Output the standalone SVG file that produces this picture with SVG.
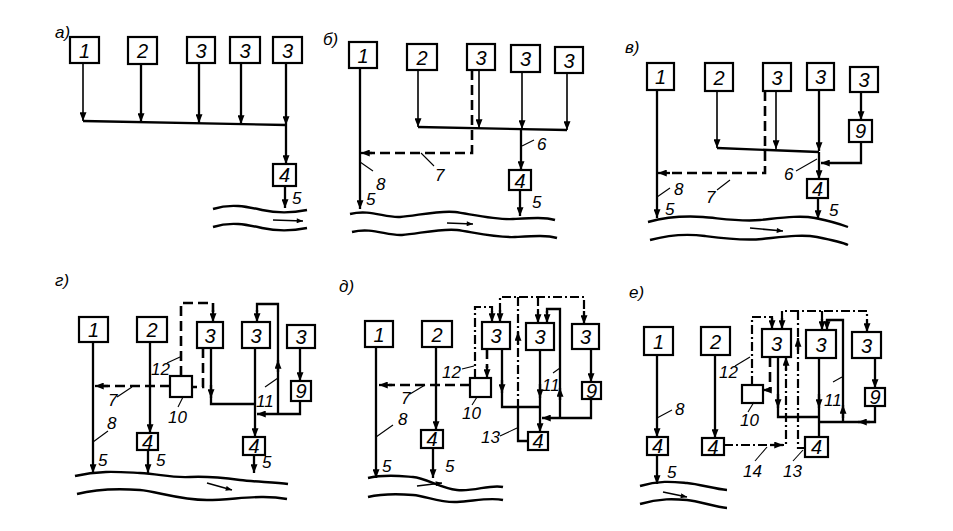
<svg xmlns="http://www.w3.org/2000/svg" width="953" height="531" viewBox="0 0 953 531">
<defs>
<marker id="a" viewBox="0 0 10 8" refX="10" refY="4" markerWidth="9" markerHeight="7" markerUnits="userSpaceOnUse" orient="auto"><path d="M0,0 L10,4 L0,8 z" fill="#000"/></marker>
<marker id="s" viewBox="0 0 10 8" refX="10" refY="4" markerWidth="8" markerHeight="5" markerUnits="userSpaceOnUse" orient="auto"><path d="M0,0 L10,4 L0,8 z" fill="#000"/></marker>
</defs>
<style>
.box{fill:#fff;stroke:#000;stroke-width:2.2}
.ln{fill:none;stroke:#000;stroke-width:2.3}
.th{fill:none;stroke:#000;stroke-width:1.6}
.ds{fill:none;stroke:#000;stroke-width:2.6;stroke-dasharray:10,5}
.dd{fill:none;stroke:#000;stroke-width:2.2;stroke-dasharray:9,3,2,3}
.ld{fill:none;stroke:#000;stroke-width:1.1}
.rv{fill:none;stroke:#000;stroke-width:2.4}
.ar{marker-end:url(#a)}
.sa{marker-end:url(#s)}
text{font-family:"Liberation Sans","DejaVu Sans",sans-serif;font-style:italic;fill:#000}
.n{font-size:20px;text-anchor:middle}
.l{font-size:17px}
</style>
<rect width="953" height="531" fill="#fff"/>

<!-- Panel a -->
<g id="panel-a">
<text class="l" x="55" y="38">а)</text>
<g id="a-n1"><rect class="box" x="70" y="37" width="29" height="26"/><text class="n" x="84.5" y="58">1</text></g>
<g id="a-n2"><rect class="box" x="128" y="37" width="29" height="27"/><text class="n" x="142.5" y="58">2</text></g>
<g id="a-n3a"><rect class="box" x="187" y="37" width="28" height="26"/><text class="n" x="201" y="58">3</text></g>
<g id="a-n3b"><rect class="box" x="230" y="37" width="30" height="26"/><text class="n" x="245" y="58">3</text></g>
<g id="a-n3c"><rect class="box" x="273" y="37" width="29" height="26"/><text class="n" x="287.5" y="58">3</text></g>
<g id="a-n4"><rect class="box" x="273" y="164" width="23" height="22"/><text class="n" x="284.5" y="182">4</text></g>
<g id="a-conn">
<path class="ln" d="M83,121 L286,125"/>
<path class="th ar" d="M83,63 L83,121"/>
<path class="ln ar" d="M141,64 L141,122"/>
<path class="ln ar" d="M199,63 L199,123"/>
<path class="ln ar" d="M241,63 L241,124"/>
<path class="ln ar" d="M286,63 L286,125"/>
<path class="ln ar" d="M286,125 L286,164"/>
<path class="ln ar" d="M285,186 L285,208"/>
<path class="rv" d="M213,209 C232,203 248,207 262,210 S292,213 307,210"/>
<path class="rv" d="M213,227 C232,221 248,225 262,228 S292,231 307,228"/>
<path class="th sa" d="M273,220 L303,221"/>
</g>
<text class="l" x="292" y="204">5</text>
</g>

<!-- Panel b -->
<g id="panel-b">
<text class="l" x="323" y="45">б)</text>
<g id="b-n1"><rect class="box" x="349" y="42" width="28" height="26"/><text class="n" x="363" y="63">1</text></g>
<g id="b-n2"><rect class="box" x="407" y="44" width="30" height="26"/><text class="n" x="422" y="65">2</text></g>
<g id="b-n3a"><rect class="box" x="467" y="44" width="28" height="26"/><text class="n" x="481" y="65">3</text></g>
<g id="b-n3b"><rect class="box" x="511" y="45" width="29" height="27"/><text class="n" x="525.5" y="66">3</text></g>
<g id="b-n3c"><rect class="box" x="555" y="47" width="28" height="26"/><text class="n" x="569" y="68">3</text></g>
<g id="b-n4"><rect class="box" x="509" y="170" width="22" height="20"/><text class="n" x="520" y="188">4</text></g>
<g id="b-conn">
<path class="ln ar" d="M360,68 L360,209"/>
<path class="ds" d="M472,70 L472,153 L368,153"/>
<path class="ln ar" d="M372,153 L361,153"/>
<path class="ln" d="M418,127 L567,130"/>
<path class="th ar" d="M418,70 L418,127"/>
<path class="th ar" d="M479,70 L479,128"/>
<path class="th ar" d="M522,72 L522,129"/>
<path class="th ar" d="M567,73 L567,130"/>
<path class="ln ar" d="M521,129 L521,170"/>
<path class="ln ar" d="M520,190 L520,216"/>
<path class="ld" d="M522,146 L534,140"/>
<path class="ld" d="M360,162 L373,171"/>
<path class="ld" d="M421,153 L434,166"/>
<path class="rv" d="M350,214 C370,209 385,218 400,217 S440,210 455,212 S495,220 513,219 S545,217 555,220"/>
<path class="rv" d="M352,232 C372,227 387,236 402,235 S442,228 457,230 S497,238 515,237 S547,235 557,238"/>
<path class="th sa" d="M447,223 L473,224"/>
</g>
<text class="l" x="537" y="150">6</text>
<text class="l" x="376" y="190">8</text>
<text class="l" x="435" y="181">7</text>
<text class="l" x="366" y="205">5</text>
<text class="l" x="532" y="208">5</text>
</g>

<!-- Panel v -->
<g id="panel-v">
<text class="l" x="625" y="53">в)</text>
<g id="v-n1"><rect class="box" x="647" y="63" width="27" height="27"/><text class="n" x="660.5" y="84">1</text></g>
<g id="v-n2"><rect class="box" x="705" y="63" width="28" height="28"/><text class="n" x="719" y="85">2</text></g>
<g id="v-n3a"><rect class="box" x="763" y="63" width="28" height="28"/><text class="n" x="777" y="85">3</text></g>
<g id="v-n3b"><rect class="box" x="807" y="63" width="27" height="27"/><text class="n" x="820.5" y="84">3</text></g>
<g id="v-n3c"><rect class="box" x="850" y="67" width="28" height="25"/><text class="n" x="864" y="87">3</text></g>
<g id="v-n9"><rect class="box" x="849" y="120" width="23" height="22"/><text class="n" x="860.5" y="138">9</text></g>
<g id="v-n4"><rect class="box" x="807" y="179" width="21" height="19"/><text class="n" x="817.5" y="196">4</text></g>
<g id="v-conn">
<path class="ln ar" d="M657,90 L657,218"/>
<path class="ds" d="M765,91 L765,173 L666,173"/>
<path class="ln ar" d="M670,173 L658,173"/>
<path class="ln" d="M717,148 L819,152"/>
<path class="th ar" d="M717,91 L717,148"/>
<path class="th ar" d="M776,91 L776,149"/>
<path class="ln ar" d="M819,90 L819,151"/>
<path class="ln ar" d="M861,92 L861,120"/>
<path class="ln ar" d="M861,142 L861,163 L821,163"/>
<path class="ln ar" d="M819,152 L819,179"/>
<path class="ln ar" d="M818,198 L818,219"/>
<path class="ld" d="M796,171 L817,159"/>
<path class="ld" d="M657,197 L670,188"/>
<path class="ld" d="M717,190 L730,180"/>
<path class="rv" d="M648,222 C670,216 688,216 703,217 S740,222 760,220 S800,215 815,218 S840,224 848,227"/>
<path class="rv" d="M650,240 C672,234 690,234 705,236 S742,241 762,239 S802,234 817,237 S842,242 848,245"/>
<path class="th sa" d="M750,228 L783,231"/>
</g>
<text class="l" x="784" y="180">6</text>
<text class="l" x="674" y="195">8</text>
<text class="l" x="706" y="203">7</text>
<text class="l" x="665" y="215">5</text>
<text class="l" x="829" y="216">5</text>
</g>

<!-- Panel g -->
<g id="panel-g">
<text class="l" x="55" y="286">г)</text>
<g id="g-n1"><rect class="box" x="79" y="317" width="29" height="25"/><text class="n" x="93.5" y="337">1</text></g>
<g id="g-n2"><rect class="box" x="137" y="317" width="30" height="25"/><text class="n" x="152" y="337">2</text></g>
<g id="g-n3a"><rect class="box" x="197" y="322" width="26" height="26"/><text class="n" x="210" y="343">3</text></g>
<g id="g-n3b"><rect class="box" x="242" y="322" width="28" height="26"/><text class="n" x="256" y="343">3</text></g>
<g id="g-n3c"><rect class="box" x="287" y="325" width="28" height="23"/><text class="n" x="301" y="344">3</text></g>
<g id="g-n10"><rect class="box" x="170" y="376" width="22" height="21"/></g>
<g id="g-n9"><rect class="box" x="291" y="381" width="20" height="20"/><text class="n" x="301" y="398">9</text></g>
<g id="g-n4a"><rect class="box" x="137" y="433" width="21" height="17"/><text class="n" x="147.5" y="449">4</text></g>
<g id="g-n4b"><rect class="box" x="243" y="437" width="22" height="18"/><text class="n" x="254" y="453">4</text></g>
<g id="g-conn">
<path class="ln ar" d="M93,342 L93,473"/>
<path class="ds" d="M170,386 L104,386"/>
<path class="ln ar" d="M108,386 L95,386"/>
<path class="ln ar" d="M150,342 L150,433"/>
<path class="ln ar" d="M148,450 L148,473"/>
<path class="ds" d="M181,376 L181,303 L213,303 L213,312"/>
<path class="ln ar" d="M213,310 L213,322"/>
<path class="ds" d="M203,348 L203,387 L192,387"/>
<path class="ln" d="M211,348 L211,404 L255,404"/>
<path class="ln ar" d="M211,385 L211,398"/>
<path class="ln ar" d="M255,348 L255,437"/>
<path class="ln" d="M278,414 L278,304 L257,304 L257,312"/>
<path class="ln ar" d="M257,310 L257,322"/>
<path class="ln ar" d="M278,372 L278,360"/>
<path class="ln ar" d="M300,348 L300,381"/>
<path class="ln ar" d="M300,401 L300,414 L257,414"/>
<path class="ln ar" d="M254,455 L254,473"/>
<path class="ld" d="M167,363 L180,357"/>
<path class="ld" d="M183,397 L178,407"/>
<path class="ld" d="M117,397 L132,387"/>
<path class="ld" d="M93,442 L108,431"/>
<path class="ld" d="M265,387 L278,378"/>
<path class="rv" d="M75,476 C100,470 120,472 140,473 S170,478 190,477 S225,478 240,480 S275,482 288,484"/>
<path class="rv" d="M77,494 C100,488 125,489 140,490 S180,500 207,500 S260,494 287,499"/>
<path class="th sa" d="M207,483 L232,490"/>
</g>
<text class="l" x="151" y="375">12</text>
<text class="l" x="168" y="423">10</text>
<text class="l" x="108" y="406">7</text>
<text class="l" x="107" y="429">8</text>
<text class="l" x="256" y="407">11</text>
<text class="l" x="98" y="466">5</text>
<text class="l" x="156" y="466">5</text>
<text class="l" x="262" y="468">5</text>
</g>

<!-- Panel d -->
<g id="panel-d">
<text class="l" x="339" y="292">д)</text>
<g id="d-n1"><rect class="box" x="365" y="321" width="28" height="26"/><text class="n" x="379" y="342">1</text></g>
<g id="d-n2"><rect class="box" x="422" y="321" width="30" height="26"/><text class="n" x="437" y="342">2</text></g>
<g id="d-n3a"><rect class="box" x="482" y="322" width="28" height="27"/><text class="n" x="496" y="343">3</text></g>
<g id="d-n3b"><rect class="box" x="526" y="323" width="28" height="27"/><text class="n" x="540" y="344">3</text></g>
<g id="d-n3c"><rect class="box" x="572" y="324" width="27" height="25"/><text class="n" x="585.5" y="344">3</text></g>
<g id="d-n10"><rect class="box" x="470" y="378" width="21" height="19"/></g>
<g id="d-n9"><rect class="box" x="582" y="382" width="19" height="17"/><text class="n" x="591.5" y="398">9</text></g>
<g id="d-n4a"><rect class="box" x="421" y="430" width="22" height="18"/><text class="n" x="432" y="446">4</text></g>
<g id="d-n4b"><rect class="box" x="528" y="432" width="20" height="18"/><text class="n" x="538" y="448">4</text></g>
<g id="d-conn">
<path class="ln ar" d="M376,347 L376,478"/>
<path class="ds" d="M470,385 L389,385"/>
<path class="ln ar" d="M392,385 L379,385"/>
<path class="ln ar" d="M436,347 L436,430"/>
<path class="ln ar" d="M433,448 L433,478"/>
<path class="dd" d="M475,378 L475,307 L492,307 L492,312"/>
<path class="ln ar" d="M492,311 L492,322"/>
<path class="ds" d="M487,349 L487,368"/>
<path class="ln ar" d="M487,366 L487,378"/>
<path class="dd" d="M500,312 L500,297 L584,297 L584,312"/>
<path class="ln ar" d="M500,310 L500,322"/>
<path class="dd" d="M538,297 L538,312"/>
<path class="ln ar" d="M538,311 L538,323"/>
<path class="ln ar" d="M584,311 L584,324"/>
<path class="ln" d="M528,441 L518,441 L518,408"/>
<path class="dd" d="M518,408 L518,297"/>
<path class="ln ar" d="M518,344 L518,332"/>
<path class="ln" d="M502,349 L502,407 L540,407"/>
<path class="ln ar" d="M502,380 L502,393"/>
<path class="ln ar" d="M540,350 L540,432"/>
<path class="ln ar" d="M540,384 L540,398"/>
<path class="ln" d="M560,418 L560,309 L547,309 L547,313"/>
<path class="ln ar" d="M547,311 L547,323"/>
<path class="ln ar" d="M560,400 L560,388"/>
<path class="ln ar" d="M591,349 L591,382"/>
<path class="ln ar" d="M591,399 L591,418 L542,418"/>
<path class="ld" d="M462,369 L474,366"/>
<path class="ld" d="M472,405 L477,397"/>
<path class="ld" d="M410,394 L425,385"/>
<path class="ld" d="M376,437 L393,425"/>
<path class="ld" d="M553,373 L560,368"/>
<path class="ld" d="M500,436 L517,428"/>
<path class="rv" d="M368,478 C385,474 400,476 413,477 S440,488 457,490 S490,484 503,487"/>
<path class="rv" d="M368,497 C385,493 400,494 413,495 S440,503 457,502 S490,497 503,500"/>
<path class="th sa" d="M417,486 L442,483"/>
</g>
<text class="l" x="442" y="378">12</text>
<text class="l" x="462" y="419">10</text>
<text class="l" x="401" y="404">7</text>
<text class="l" x="398" y="425">8</text>
<text class="l" x="542" y="391">11</text>
<text class="l" x="481" y="443">13</text>
<text class="l" x="382" y="472">5</text>
<text class="l" x="445" y="472">5</text>
</g>

<!-- Panel e -->
<g id="panel-e">
<text class="l" x="629" y="298">е)</text>
<g id="e-n1"><rect class="box" x="644" y="327" width="29" height="28"/><text class="n" x="658.5" y="349">1</text></g>
<g id="e-n2"><rect class="box" x="701" y="327" width="29" height="28"/><text class="n" x="715.5" y="349">2</text></g>
<g id="e-n3a"><rect class="box" x="762" y="329" width="29" height="28"/><text class="n" x="776.5" y="351">3</text></g>
<g id="e-n3b"><rect class="box" x="806" y="330" width="30" height="28"/><text class="n" x="821" y="352">3</text></g>
<g id="e-n3c"><rect class="box" x="852" y="332" width="29" height="26"/><text class="n" x="866.5" y="353">3</text></g>
<g id="e-n10"><rect class="box" x="742" y="385" width="21" height="18"/></g>
<g id="e-n9"><rect class="box" x="865" y="388" width="20" height="18"/><text class="n" x="875" y="404">9</text></g>
<g id="e-n4a"><rect class="box" x="647" y="437" width="21" height="18"/><text class="n" x="657.5" y="453">4</text></g>
<g id="e-n4b"><rect class="box" x="702" y="438" width="22" height="17"/><text class="n" x="713" y="454">4</text></g>
<g id="e-n4c"><rect class="box" x="805" y="437" width="23" height="20"/><text class="n" x="816.5" y="454">4</text></g>
<g id="e-conn">
<path class="ln ar" d="M657,355 L657,437"/>
<path class="ln ar" d="M657,455 L657,484"/>
<path class="ln ar" d="M715,355 L715,438"/>
<path class="dd" d="M724,445 L786,445 L786,368"/>
<path class="ln ar" d="M770,445 L783,445"/>
<path class="ln ar" d="M786,370 L786,357"/>
<path class="dd" d="M752,385 L752,317 L772,317 L772,320"/>
<path class="ln ar" d="M772,318 L772,329"/>
<path class="ds" d="M770,357 L770,390 L766,390"/>
<path class="ln ar" d="M770,390 L763,390"/>
<path class="dd" d="M782,320 L782,311 L867,311 L867,320"/>
<path class="ln ar" d="M782,318 L782,329"/>
<path class="dd" d="M822,311 L822,320"/>
<path class="ln ar" d="M822,319 L822,330"/>
<path class="ln ar" d="M867,320 L867,332"/>
<path class="dd" d="M798,311 L798,448 L805,448"/>
<path class="ln ar" d="M798,350 L798,338"/>
<path class="ln" d="M778,357 L778,417 L819,417"/>
<path class="ln ar" d="M778,394 L778,408"/>
<path class="ln" d="M819,358 L819,437"/>
<path class="ln ar" d="M819,394 L819,408"/>
<path class="ln" d="M843,422 L843,320 L827,320 L827,322"/>
<path class="ln ar" d="M827,320 L827,330"/>
<path class="ln ar" d="M843,418 L843,405"/>
<path class="ln ar" d="M875,358 L875,388"/>
<path class="ln" d="M875,406 L875,422 L819,422"/>
<path class="ln ar" d="M870,422 L858,422"/>
<path class="ld" d="M735,366 L750,357"/>
<path class="ld" d="M748,412 L754,402"/>
<path class="ld" d="M657,418 L672,410"/>
<path class="ld" d="M833,382 L842,377"/>
<path class="ld" d="M755,461 L767,447"/>
<path class="ld" d="M793,461 L803,450"/>
<path class="rv" d="M640,486 C660,480 675,482 687,483 S715,489 727,490"/>
<path class="rv" d="M640,504 C660,498 675,499 687,500 S715,507 727,508"/>
<path class="th sa" d="M663,492 L687,497"/>
</g>
<text class="l" x="719" y="378">12</text>
<text class="l" x="740" y="426">10</text>
<text class="l" x="675" y="415">8</text>
<text class="l" x="824" y="406">11</text>
<text class="l" x="743" y="477">14</text>
<text class="l" x="783" y="477">13</text>
<text class="l" x="667" y="478">5</text>
</g>
</svg>
